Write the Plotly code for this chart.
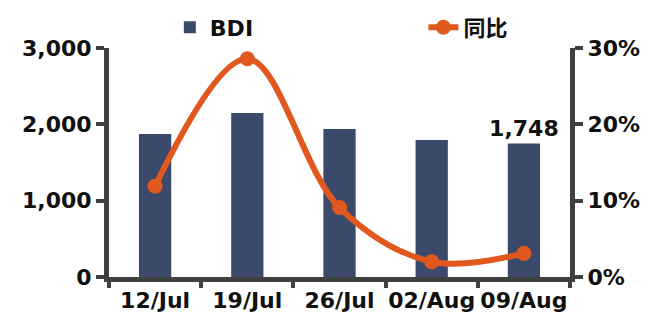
import plotly.graph_objects as go

categories = ["12/Jul", "19/Jul", "26/Jul", "02/Aug", "09/Aug"]
bdi_values = [1875, 2150, 1940, 1795, 1748]
yoy_values = [0.119, 0.286, 0.091, 0.020, 0.031]
bdi_labels = ["", "", "", "", "1,748"]

FONT = "DejaVu Sans, Noto Sans CJK SC, sans-serif"
BAR_COLOR = "#3B4A6B"
LINE_COLOR = "#E0581E"
AXIS_COLOR = "#404040"
TXT = "#111111"
FS = 22

fig = go.Figure()
fig.add_trace(go.Bar(
    x=categories, y=bdi_values, name="<b>BDI</b>",
    marker=dict(color=BAR_COLOR, line=dict(width=0)),
    width=0.35,
    text=bdi_labels, textposition="outside", cliponaxis=False,
    constraintext="none",
    textfont=dict(family=FONT, size=FS, color=TXT),
    texttemplate="<b>%{text}</b>",
    legend="legend",
))
fig.add_trace(go.Scatter(
    x=categories, y=yoy_values, name="<b>同比</b>", yaxis="y2",
    mode="lines+markers",
    line=dict(color=LINE_COLOR, width=6, shape="spline", smoothing=1),
    marker=dict(color=LINE_COLOR, size=15),
    cliponaxis=False,
    legend="legend2",
))

tickfont = dict(family=FONT, size=FS, color=TXT)

fig.update_layout(
    width=649, height=323,
    margin=dict(l=109, r=79, t=48, b=46, autoexpand=False),
    paper_bgcolor="white", plot_bgcolor="white",
    font=dict(family=FONT, color=TXT),
    xaxis=dict(
        type="category", showline=True, linewidth=5, linecolor=AXIS_COLOR,
        ticks="outside", tickson="boundaries", ticklen=6, tickwidth=4,
        tickcolor=AXIS_COLOR, tickfont=tickfont, showgrid=False,
        tickprefix="<b>", ticksuffix="</b>", tickangle=0, automargin=False,
    ),
    yaxis=dict(
        range=[0, 3000], dtick=1000, tickformat=",", showgrid=False,
        showline=True, linewidth=5, linecolor=AXIS_COLOR,
        ticks="outside", ticklen=8, tickwidth=4, tickcolor=AXIS_COLOR,
        tickfont=tickfont, tickprefix="<b>", ticksuffix="</b>", zeroline=False,
        automargin=False,
    ),
    yaxis2=dict(
        range=[0, 0.30], dtick=0.10, tickformat=".0%", overlaying="y", side="right",
        showgrid=False, showline=True, linewidth=5, linecolor=AXIS_COLOR,
        ticks="outside", ticklen=8, tickwidth=4, tickcolor=AXIS_COLOR,
        tickfont=tickfont, tickprefix="<b>", ticksuffix="</b>", zeroline=False,
        automargin=False,
    ),
    legend=dict(
        x=0.132, y=1.09, xanchor="left", yanchor="middle", orientation="h",
        font=dict(family=FONT, size=FS, color=TXT), bgcolor="rgba(0,0,0,0)",
    ),
    legend2=dict(
        x=0.682, y=1.09, xanchor="left", yanchor="middle", orientation="h",
        font=dict(family=FONT, size=FS, color=TXT), bgcolor="rgba(0,0,0,0)",
    ),
    showlegend=True,
)

fig.write_html(
    "out.html",
    config={"displayModeBar": False},
    post_script="document.body.style.margin='0';",
)
